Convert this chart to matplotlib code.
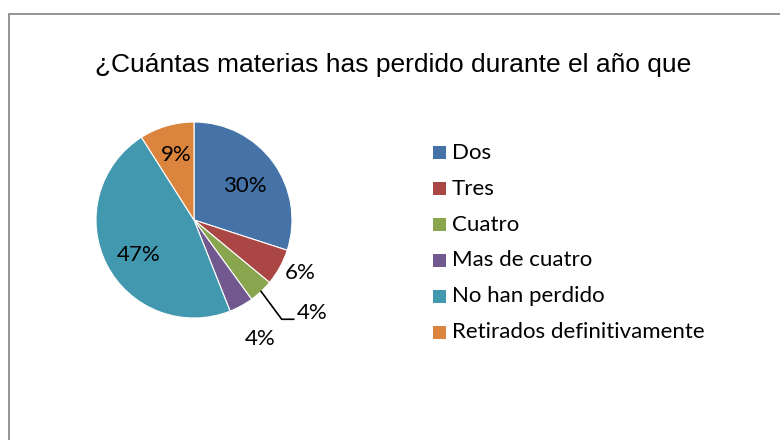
import matplotlib
matplotlib.use("Agg")
import matplotlib.pyplot as plt
from matplotlib.patches import Rectangle
import numpy as np

categories = ["Dos", "Tres", "Cuatro", "Mas de cuatro", "No han perdido", "Retirados definitivamente"]
values = [30, 6, 4, 4, 47, 9]
colors = ["#4572A7", "#AA4643", "#89A54E", "#71588F", "#4198AF", "#DB843D"]
title = "¿Cuántas materias has perdido durante el año que"

# label placement (radius factor, angle offset in degrees) per slice
label_r = [0.62, 1.21, 1.55, 1.387, 0.667, 0.69]
label_da = [-2, 2, 8, 0.5, 4.9, -0.8]

W, H = 780, 440
fig = plt.figure(figsize=(7.8, 4.4), dpi=100)
ax = fig.add_axes([0, 0, 1, 1])

cx, cy, R = 194, 220, 98
wedges, _ = ax.pie(values, colors=colors, startangle=90, counterclock=False,
                   center=(cx, cy), radius=R,
                   wedgeprops=dict(edgecolor="white", linewidth=0.8))
ax.set_xlim(0, W)
ax.set_ylim(0, H)
ax.set_aspect("equal")
ax.axis("off")

lab_font = dict(family=["Lato", "DejaVu Sans"], fontsize=16, color="black")
total = sum(values)
for i, w in enumerate(wedges):
    mid = (w.theta1 + w.theta2) / 2
    pct = f"{round(values[i] / total * 100)}%"
    a = np.deg2rad(mid + label_da[i])
    tx, ty = cx + label_r[i] * R * np.cos(a), cy + label_r[i] * R * np.sin(a)
    if categories[i] == "Cuatro":
        am = np.deg2rad(mid)
        ex, ey = cx + R * np.cos(am), cy + R * np.sin(am)
        kx, ky = cx + 0.895 * R, cy - 1.013 * R
        ax.plot([ex, kx, kx + 12], [ey, ky, ky], color="black", lw=1.2)
        ax.text(kx + 15, ky + 6, pct, ha="left", va="center", **lab_font)
    else:
        ax.text(tx, ty, pct, ha="center", va="center", **lab_font)

# legend
leg_x, leg_y0, leg_dy, sq = 433, H - 152.7, 35.9, 13
for i, (c, lab) in enumerate(zip(colors, categories)):
    y = leg_y0 - i * leg_dy
    ax.add_patch(Rectangle((leg_x, y - sq / 2), sq, sq, facecolor=c, edgecolor="none"))
    ax.text(leg_x + 19, y, lab, ha="left", va="center", **lab_font)

# chart border
ax.add_patch(Rectangle((8.5, -20), 900, H - 14 + 20, fill=False, edgecolor="#8c8c8c", lw=1.3))

fig.text(393.5 / W, 1 - 72 / H, title, ha="center", va="baseline",
         family=["Liberation Sans", "DejaVu Sans"], fontsize=19, color="black")

fig.savefig("out.png", dpi=100)
